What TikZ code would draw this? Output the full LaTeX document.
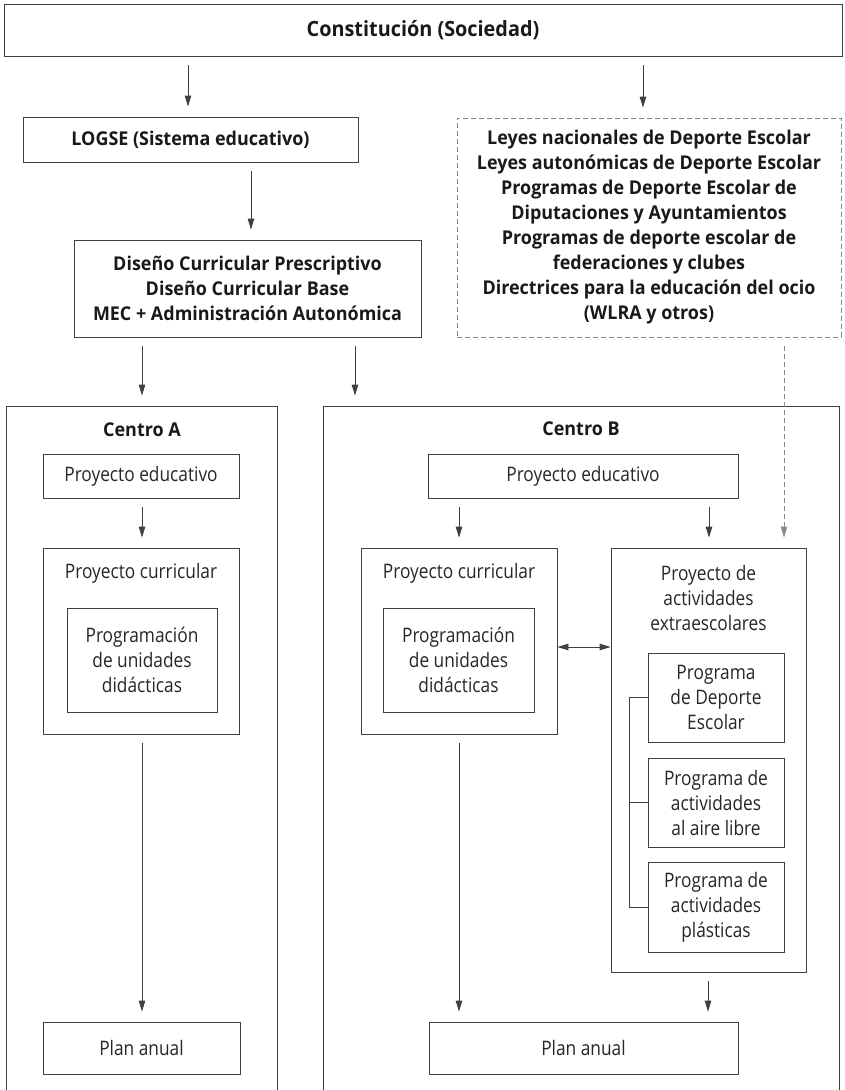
\documentclass[tikz,border=0pt]{standalone}
\usepackage{fontspec}
\setmainfont{Open Sans}[FakeStretch=0.865, BoldFeatures={FakeStretch=0.945}]
\usetikzlibrary{arrows.meta}
\definecolor{rule}{HTML}{404040}
\definecolor{dashrule}{HTML}{8A8A8A}
\begin{document}
\begin{tikzpicture}[x=1pt,y=-1pt,
  txt/.style={font=\fontsize{20}{25}\selectfont, align=center, inner sep=0pt, text=black!85},
  boldtxt/.style={txt, font=\fontsize{19}{25}\selectfont\bfseries, text=black!90},
  box/.style={draw=rule, line width=0.8pt, inner sep=0pt, align=center,
    font=\fontsize{20}{25}\selectfont, text=black!85},
  boldbox/.style={box, font=\fontsize{19}{25}\selectfont\bfseries, text=black!90},
  dashbox/.style={boldbox, draw=dashrule, dash pattern=on 5pt off 3pt},
  frame/.style={draw=rule, line width=0.8pt, inner sep=0pt},
  arr/.style={draw=rule, line width=0.8pt, -{Triangle[length=11pt,width=6.5pt]},
    shorten <=9pt, shorten >=10pt},
  dasharr/.style={arr, draw=dashrule, dash pattern=on 5pt off 3pt},
  link/.style={draw=rule, line width=0.8pt}]
\useasboundingbox (0,0) rectangle (844,1090);
\clip (0,0) rectangle (844,1090);

% upper level
\node[boldbox, font=\fontsize{21}{25}\selectfont\bfseries, minimum width=838pt, minimum height=52pt] (top) at (423,30) {Constitución (Sociedad)};
\node[boldbox, minimum width=335pt, minimum height=45pt] (logse) at (190.5,139.5) {LOGSE (Sistema educativo)};
\node[boldbox, minimum width=347pt, minimum height=97pt] (dcp) at (247.5,288.5)
  {Diseño Curricular Prescriptivo\\Diseño Curricular Base\\MEC + Administración Autonómica};
\node[dashbox, minimum width=384pt, minimum height=219pt] (laws) at (649,227.5)
  {Leyes nacionales de Deporte Escolar\\Leyes autonómicas de Deporte Escolar\\Programas de Deporte Escolar de\\Diputaciones y Ayuntamientos\\Programas de deporte escolar de\\federaciones y clubes\\Directrices para la educación del ocio\\(WLRA y otros)};

% school frames (open at the foot of the page)
\node[frame, minimum width=271pt, minimum height=700pt] (cA) at (141.5,756) {};
\node[frame, minimum width=516pt, minimum height=700pt] (cB) at (581,756) {};
\node[boldtxt] (cAt) at (142,430) {Centro A};
\node[boldtxt] (cBt) at (581,429) {Centro B};

% Centro A
\node[box, minimum width=196pt, minimum height=44pt] (peA) at (141,476) {Proyecto educativo};
\node[frame, minimum width=196pt, minimum height=186pt] (pcA) at (141,641) {};
\node[txt] (pcAt) at (141,573) {Proyecto curricular};
\node[box, minimum width=150pt, minimum height=104pt] (pgA) at (142,660) {Programación\\de unidades\\didácticas};
\node[box, minimum width=197pt, minimum height=52pt] (plA) at (141.5,1048) {Plan anual};

% Centro B
\node[box, minimum width=310pt, minimum height=44pt] (peB) at (583,476) {Proyecto educativo};
\node[frame, minimum width=196pt, minimum height=186pt] (pcB) at (459,641) {};
\node[txt] (pcBt) at (459,573) {Proyecto curricular};
\node[box, minimum width=151pt, minimum height=104pt] (pgB) at (458.5,660) {Programación\\de unidades\\didácticas};
\node[frame, minimum width=195pt, minimum height=424pt] (pa) at (708.5,760) {};
\node[txt] (pat) at (708.5,598) {Proyecto de\\actividades\\extraescolares};
\node[box, minimum width=136pt, minimum height=89pt] (p1) at (716,697.5) {Programa\\de Deporte\\Escolar};
\node[box, minimum width=136pt, minimum height=89pt] (p2) at (716,802.5) {Programa de\\actividades\\al aire libre};
\node[box, minimum width=136pt, minimum height=90pt] (p3) at (716,907) {Programa de\\actividades\\plásticas};
\node[box, minimum width=309pt, minimum height=52pt] (plB) at (583.5,1048) {Plan anual};

% connectors
\draw[arr] (top.south -| 188,0) -- (logse.north -| 188,0);
\draw[arr] (top.south -| 643,0) -- (laws.north -| 643,0);
\draw[arr] (logse.south -| 251,0) -- (dcp.north -| 251,0);
\draw[arr] (dcp.south -| 142,0) -- (cA.north -| 142,0);
\draw[arr] (dcp.south -| 355,0) -- (cB.north -| 355,0);
\draw[dasharr] (laws.south -| 784,0) -- (pa.north -| 784,0);
\draw[arr] (peA.south -| 142,0) -- (pcA.north -| 142,0);
\draw[arr] (pcA.south -| 142,0) -- (plA.north -| 142,0);
\draw[arr] (peB.south -| 459,0) -- (pcB.north -| 459,0);
\draw[arr] (peB.south -| 709,0) -- (pa.north -| 709,0);
\draw[arr] (pcB.south -| 459,0) -- (plB.north -| 459,0);
\draw[arr] (pa.south -| 708,0) -- (plB.north -| 708,0);
\draw[arr, {Triangle[length=11pt,width=6.5pt]}-{Triangle[length=11pt,width=6.5pt]}, shorten <=0pt, shorten >=0pt]
  (pcB.east |- 0,647) -- (pa.west |- 0,647);

% bracket grouping the three programmes
\draw[link] (p1.west) -| (629,0 |- p3.west) -- (p3.west);
\draw[link] (p2.west) -- (p2.west -| 629,0);
\end{tikzpicture}
\end{document}
